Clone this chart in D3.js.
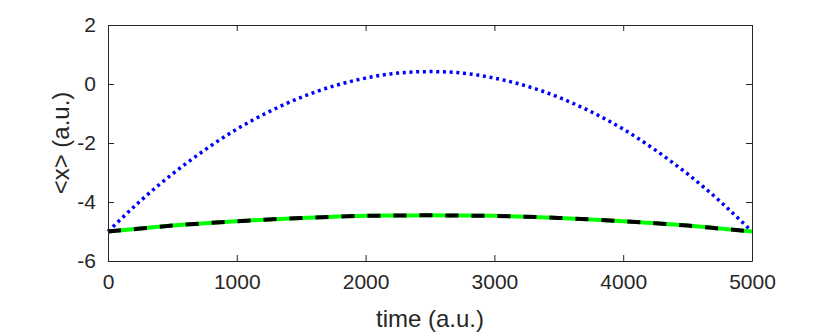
<!DOCTYPE html>
<html>
<head>
<meta charset="utf-8">
<script src="https://cdn.jsdelivr.net/npm/d3@7"></script>
<style>
  body { margin: 0; background: #fff; }
  svg { display: block; font-family: "Liberation Sans", Arial, sans-serif; }
</style>
</head>
<body>
<script>
// time samples (a.u.)
const times = [0, 250, 500, 750, 1000, 1250, 1500, 1750, 2000, 2250, 2500,
  2750, 3000, 3250, 3500, 3750, 4000, 4250, 4500, 4750, 5000];
// blue dotted curve
const blueVals = [-5, -3.97, -3.05, -2.24, -1.53, -0.94, -0.45, -0.07, 0.20, 0.37, 0.42,
  0.37, 0.20, -0.07, -0.45, -0.94, -1.53, -2.24, -3.05, -3.97, -5];
// green solid / black dashed curve
const greenVals = [-5, -4.90, -4.80, -4.72, -4.65, -4.59, -4.54, -4.50, -4.47, -4.46, -4.45,
  -4.46, -4.47, -4.50, -4.54, -4.59, -4.65, -4.72, -4.80, -4.90, -5];
const xTicks = [0, 1000, 2000, 3000, 4000, 5000];
const yTicks = [-6, -4, -2, 0, 2];

const width = 830, height = 333;
const margin = { left: 108, right: 78, top: 25, bottom: 72 };

const svg = d3.select("body").append("svg")
  .attr("width", width)
  .attr("height", height);

const x = d3.scaleLinear().domain([0, 5000]).range([margin.left, width - margin.right]);
const y = d3.scaleLinear().domain([-6, 2]).range([height - margin.bottom, margin.top]);

const axisColor = "#262626";

// curves
const line = d3.line()
  .x((d, i) => x(times[i]))
  .y(d => y(d))
  .curve(d3.curveNatural);

svg.append("path")
  .attr("d", line(blueVals))
  .attr("fill", "none")
  .attr("stroke", "#0000ff")
  .attr("stroke-width", 3.5)
  .attr("stroke-dasharray", "3,3.7");

svg.append("path")
  .attr("d", line(greenVals))
  .attr("fill", "none")
  .attr("stroke", "#00ff00")
  .attr("stroke-width", 4);

svg.append("path")
  .attr("d", line(greenVals))
  .attr("fill", "none")
  .attr("stroke", "#000")
  .attr("stroke-width", 4)
  .attr("stroke-dasharray", "13,13");

// axes (ticks inward, box on all sides)
const tickLen = 6;
const fmt = d3.format("d");
const gBottom = svg.append("g")
  .attr("transform", `translate(0,${y(-6)})`)
  .call(d3.axisBottom(x).tickValues(xTicks).tickFormat(fmt).tickSizeInner(-tickLen).tickSizeOuter(0).tickPadding(13));
const gTop = svg.append("g")
  .attr("transform", `translate(0,${y(2)})`)
  .call(d3.axisTop(x).tickValues(xTicks).tickSizeInner(-tickLen).tickSizeOuter(0).tickFormat(""));
const gLeft = svg.append("g")
  .attr("transform", `translate(${x(0)},0)`)
  .call(d3.axisLeft(y).tickValues(yTicks).tickSizeInner(-tickLen).tickSizeOuter(0).tickPadding(12));
const gRight = svg.append("g")
  .attr("transform", `translate(${x(5000)},0)`)
  .call(d3.axisRight(y).tickValues(yTicks).tickSizeInner(-tickLen).tickSizeOuter(0).tickFormat(""));

[gBottom, gTop, gLeft, gRight].forEach(g => {
  g.selectAll("path, line").attr("stroke", axisColor).attr("stroke-width", 1);
  g.selectAll("text")
    .attr("fill", axisColor)
    .style("font-size", "21px")
    .style("font-family", "'Liberation Sans', Arial, sans-serif");
});
gLeft.selectAll("text").text(d => d < 0 ? "-" + Math.abs(d) : d);

// axis labels
svg.append("text")
  .attr("x", (x(0) + x(5000)) / 2)
  .attr("y", 327)
  .attr("text-anchor", "middle")
  .attr("fill", axisColor)
  .style("font-size", "24px")
  .text("time (a.u.)");

svg.append("text")
  .attr("transform", `translate(69,${(y(-6) + y(2)) / 2}) rotate(-90)`)
  .attr("text-anchor", "middle")
  .attr("fill", axisColor)
  .style("font-size", "24px")
  .text("<x> (a.u.)");
</script>
</body>
</html>
